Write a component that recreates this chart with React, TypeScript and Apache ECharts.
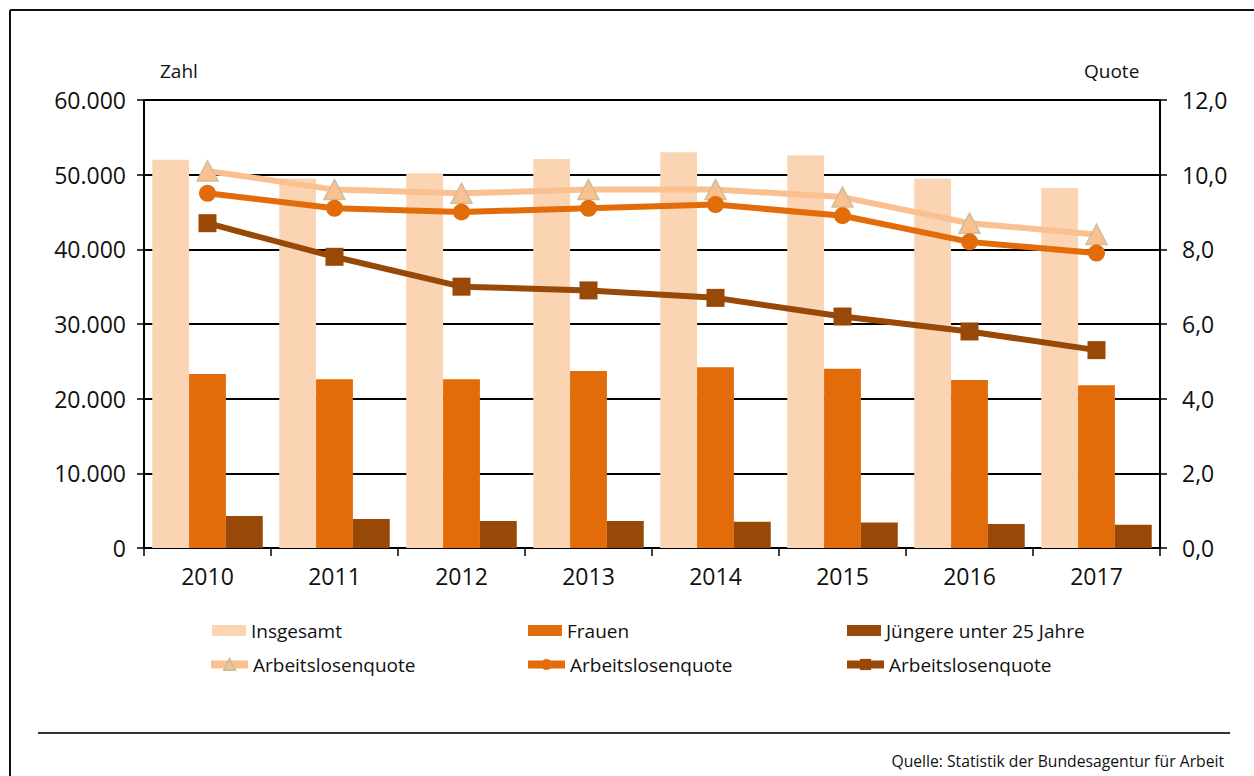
import React, { useEffect, useRef } from "react";
import * as echarts from "echarts";

const years = ["2010", "2011", "2012", "2013", "2014", "2015", "2016", "2017"];
const insgesamt = [52000, 49500, 50200, 52100, 53000, 52600, 49500, 48200];
const frauen = [23300, 22600, 22600, 23700, 24200, 24000, 22500, 21800];
const juengere = [4300, 3900, 3600, 3600, 3500, 3400, 3200, 3100];
const quoteInsgesamt = [10.1, 9.6, 9.5, 9.6, 9.6, 9.4, 8.7, 8.4];
const quoteFrauen = [9.5, 9.1, 9.0, 9.1, 9.2, 8.9, 8.2, 7.9];
const quoteJuengere = [8.7, 7.8, 7.0, 6.9, 6.7, 6.2, 5.8, 5.3];

const FONT = "Open Sans";
const C_INS = "#FBD4B4";
const C_FRA = "#E36C0A";
const C_JUN = "#984807";
const C_QINS = "#FAC090";

const fmtThousands = (v: number) =>
  String(v).replace(/\B(?=(\d{3})+(?!\d))/g, ".");

export default function App() {
  const ref = useRef<HTMLDivElement>(null);
  useEffect(() => {
    if (!ref.current) return;
    const chart = echarts.init(ref.current, null, { renderer: "svg" });
    const legendText = { fontFamily: FONT, fontSize: 19, color: "#111" };
    const mkLegend = (
      name: string,
      left: number,
      top: number,
      label: string,
      isLine: boolean
    ) => ({
      show: true,
      data: [name],
      left,
      top,
      padding: 0,
      orient: "horizontal",
      itemWidth: isLine ? 37 : 34,
      itemHeight: isLine ? 14 : 11,
      itemGap: 5,
      icon: isLine ? undefined : "rect",
      lineStyle: isLine ? { width: 8 } : undefined,
      textStyle: legendText,
      formatter: () => label,
      selectedMode: false,
    });
    chart.setOption({
      animation: false,
      backgroundColor: "#fff",
      textStyle: { fontFamily: FONT },
      grid: { left: 144, right: 94, top: 100, bottom: 228, containLabel: false },
      legend: [
        mkLegend("Insgesamt", 212, 621, "Insgesamt", false),
        mkLegend("Frauen", 528, 621, "Frauen", false),
        mkLegend("Jüngere unter 25 Jahre", 847, 621, "Jüngere unter 25 Jahre", false),
        mkLegend("Quote Insgesamt", 207, 655, "Arbeitslosenquote", true),
        mkLegend("Quote Frauen", 524, 655, "Arbeitslosenquote", true),
        mkLegend("Quote Jüngere", 843, 655, "Arbeitslosenquote", true),
      ],
      xAxis: {
        type: "category",
        data: years,
        axisLine: { show: true, lineStyle: { color: "#000", width: 2 } },
        axisTick: { show: true, length: 8, lineStyle: { color: "#000", width: 1.5 } },
        axisLabel: { fontFamily: FONT, fontSize: 23, color: "#111", margin: 16 },
        splitLine: { show: false },
      },
      yAxis: [
        {
          type: "value",
          min: 0,
          max: 60000,
          interval: 10000,
          axisLine: { show: true, lineStyle: { color: "#000", width: 2 } },
          axisTick: { show: true, length: 7, lineStyle: { color: "#000", width: 1.5 } },
          axisLabel: {
            fontFamily: FONT,
            fontSize: 23,
            color: "#111",
            margin: 18,
            formatter: (v: number) => fmtThousands(v),
          },
          splitLine: { show: true, lineStyle: { color: "#000", width: 2 } },
        },
        {
          type: "value",
          min: 0,
          max: 12,
          interval: 2,
          position: "right",
          axisLine: { show: true, lineStyle: { color: "#000", width: 2 } },
          axisTick: { show: true, length: 7, lineStyle: { color: "#000", width: 1.5 } },
          axisLabel: {
            fontFamily: FONT,
            fontSize: 23,
            color: "#111",
            margin: 22,
            formatter: (v: number) => v.toFixed(1).replace(".", ","),
          },
          splitLine: { show: false },
        },
      ],
      series: [
        {
          name: "Insgesamt",
          type: "bar",
          data: insgesamt,
          barGap: "0%",
          barCategoryGap: "13%",
          itemStyle: { color: C_INS },
          z: 2,
        },
        {
          name: "Frauen",
          type: "bar",
          data: frauen,
          barGap: "0%",
          barCategoryGap: "13%",
          itemStyle: { color: C_FRA },
          z: 2,
        },
        {
          name: "Jüngere unter 25 Jahre",
          type: "bar",
          data: juengere,
          barGap: "0%",
          barCategoryGap: "13%",
          itemStyle: { color: C_JUN },
          z: 2,
        },
        {
          name: "Quote Insgesamt",
          type: "line",
          yAxisIndex: 1,
          data: quoteInsgesamt,
          symbol: "triangle",
          symbolSize: [21, 20],
          lineStyle: { color: C_QINS, width: 6 },
          itemStyle: { color: C_QINS, borderColor: "#CDBF9B", borderWidth: 1.5 },
          z: 5,
        },
        {
          name: "Quote Frauen",
          type: "line",
          yAxisIndex: 1,
          data: quoteFrauen,
          symbol: "circle",
          symbolSize: 17,
          lineStyle: { color: C_FRA, width: 6 },
          itemStyle: { color: C_FRA, borderColor: C_FRA, borderWidth: 0 },
          z: 5,
        },
        {
          name: "Quote Jüngere",
          type: "line",
          yAxisIndex: 1,
          data: quoteJuengere,
          symbol: "rect",
          symbolSize: 18,
          lineStyle: { color: C_JUN, width: 6 },
          itemStyle: { color: C_JUN, borderWidth: 0 },
          z: 5,
        },
      ],
      graphic: [
        {
          type: "line",
          shape: { x1: 10, y1: 10, x2: 1254, y2: 10 },
          style: { stroke: "#111", lineWidth: 2 },
        },
        {
          type: "line",
          shape: { x1: 10, y1: 10, x2: 10, y2: 776 },
          style: { stroke: "#111", lineWidth: 2 },
        },
        {
          type: "line",
          shape: { x1: 38, y1: 733, x2: 1230, y2: 733 },
          style: { stroke: "#333", lineWidth: 2 },
        },
        {
          type: "text",
          left: 160,
          top: 61,
          style: { text: "Zahl", fontFamily: FONT, fontSize: 19, fill: "#111" },
        },
        {
          type: "text",
          left: 1084,
          top: 61,
          style: { text: "Quote", fontFamily: FONT, fontSize: 19, fill: "#111" },
        },
        {
          type: "text",
          right: 30,
          top: 753,
          style: {
            text: "Quelle: Statistik der Bundesagentur für Arbeit",
            fontFamily: FONT,
            fontSize: 15.7,
            fill: "#111",
          },
        },
      ],
    });
    return () => chart.dispose();
  }, []);
  return (
    <div
      ref={ref}
      style={{ position: "fixed", left: 0, top: 0, width: 1254, height: 776 }}
    />
  );
}
